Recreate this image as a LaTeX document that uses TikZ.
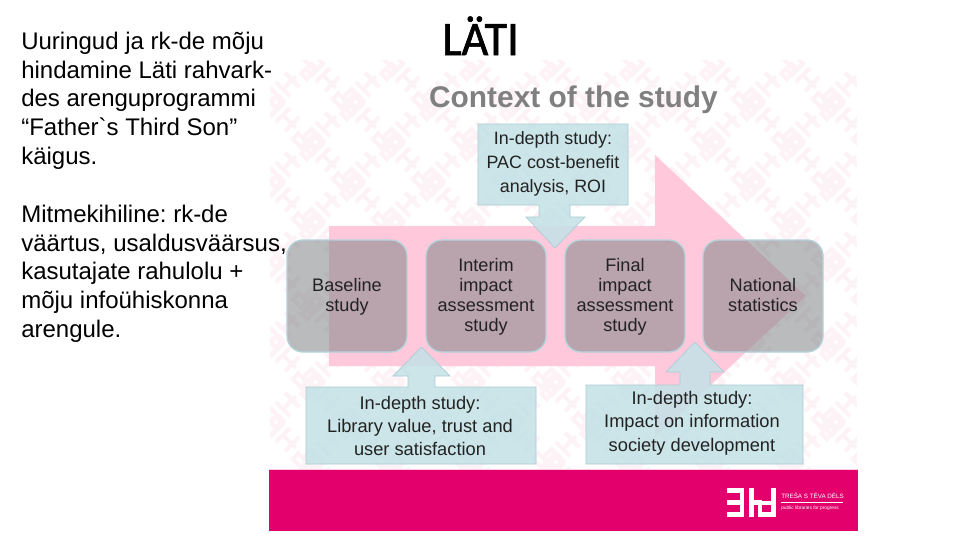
\documentclass[tikz,border=0pt]{standalone}
\usepackage{fontspec}
\setmainfont{Liberation Sans}
\newfontfamily\plainf{Liberation Sans}
\newfontfamily\titlefont[FakeBold=1.4]{Carlito}
\frenchspacing
\definecolor{pat}{HTML}{FDF2F5}
\definecolor{arrowpink}{HTML}{FFC9DB}
\definecolor{stage}{HTML}{808488}
\definecolor{stageedge}{HTML}{B4D3D9}
\definecolor{callout}{HTML}{C4E2E7}
\definecolor{calloutedge}{HTML}{A9CDD3}
\definecolor{band}{HTML}{E3006D}
\definecolor{ttl}{HTML}{808080}
\definecolor{ink}{HTML}{222222}
\tikzset{
  x=0.75pt,y=-0.75pt,
  bodytext/.style={anchor=north west,align=left,inner sep=0,font=\fontsize{18}{21.5}\selectfont,text=black},
  stagebox/.style={minimum width=90pt,minimum height=84pt,inner sep=0,fill=none,
    align=center,text=ink,font=\fontsize{13.6}{15}\selectfont},
  stageshape/.style={rounded corners=12pt,fill=stage,fill opacity=.55,draw=stageedge,line width=1pt},
  calloutshape/.style={fill=callout,fill opacity=.88,draw=calloutedge,line width=.5pt},
  callouttext/.style={align=center,inner sep=0,text=ink,font=\fontsize{13.7}{17.5}\selectfont},
  motif/.pic={
    \draw[pat,line width=3pt,line cap=butt]
      (-28,-8)--(-18,-8)--(-18,8)--(-28,8) (-28,0)--(-18,0)
      (-10,-10)--(-10,10) (-10,0)--(8,0) (3,-10)--(3,10)
      (26,-10)--(26,10)--(14,10)--(14,2)--(26,2);
  }
}
\begin{document}
\begin{tikzpicture}
\useasboundingbox (0,0) rectangle (960,540);
\fill[white] (0,0) rectangle (960,540);
% background lattice
\begin{scope}
\clip (270,60) rectangle (857,470);
\foreach \i in {0,...,7}{\foreach \j in {0,...,5}{
  \pgfmathsetmacro\cx{270+80*\i}
  \pgfmathsetmacro\cy{62+80*\j}
  \pic[rotate=45] at (\cx+20,\cy+20) {motif};
  \pic[rotate=-45] at (\cx+60,\cy+20) {motif};
  \pic[rotate=-45] at (\cx+20,\cy+60) {motif};
  \pic[rotate=45] at (\cx+60,\cy+60) {motif};
}}
\end{scope}
% big arrow
\fill[arrowpink] (329,226)--(655,226)--(655,155)--(806,296)--(655,437)--(655,366)--(329,366)--cycle;
% stage boxes
\foreach \xa/\xb in {287/407,426/546,565/685,703/823}{
  \draw[stageshape] (\xa,240) rectangle (\xb,352);
}
% callouts
\path[calloutshape] (478,124)--(628,124)--(628,205)--(570,205)--(570,217)--(585,217)--(555,248)--(526,217)--(539,217)--(539,205)--(478,205)--cycle;
\path[calloutshape] (306,387)--(408,387)--(408,376)--(393,376)--(421.5,347)--(450,376)--(435,376)--(435,387)--(536,387)--(536,464)--(306,464)--cycle;
\path[calloutshape] (586,385)--(680,385)--(680,372)--(666,372)--(695,342)--(724,372)--(710,372)--(710,385)--(803,385)--(803,464)--(586,464)--cycle;
% band
\fill[band] (269,470) rectangle (858,531);
\draw[arrowpink,line width=.75pt] (269,469.5)--(858,469.5);
% logo
\fill[white] (727,488) rectangle (744,492.5);
\fill[white] (727,500) rectangle (744,504.5);
\fill[white] (727,512) rectangle (744,516.5);
\fill[white] (739.5,488) rectangle (744,516.5);
\fill[white] (749,488) rectangle (753.5,516.5);
\fill[white] (749,500) rectangle (762,504.5);
\fill[white] (757.5,500) rectangle (762,516.5);
\fill[white] (771,488) rectangle (775.5,516.5);
\fill[white] (762,501) rectangle (775.5,505);
\fill[white] (762,512) rectangle (775.5,516.5);
\fill[white] (781,502) rectangle (843,502.5);
\node[anchor=west,inner sep=0,text=white,font=\fontsize{4.7}{6}\selectfont] (logoa) at (781,496) {TREŠA S TĒVA DĒLS};
\node[anchor=west,inner sep=0,text=white,font=\fontsize{3.6}{5}\selectfont] (logob) at (781,508.5) {public libraries for progress};
% texts
\node[bodytext] (intro) at (21,32) {Uuringud ja rk-de mõju\\hindamine Läti rahvark-\\des arenguprogrammi\\“Father{\plainf\char"60}s Third Son”\\käigus.};
\node[bodytext] (multi) at (21,205) {Mitmekihiline: rk-de\\väärtus, usaldusväärsus,\\kasutajate rahulolu +\\mõju infoühiskonna\\arengule.};
\node[anchor=base west,inner sep=0,font=\titlefont\fontsize{36}{40}\selectfont,xscale=.96] (lati) at (442,55) {LÄTI};
\node[anchor=base,inner sep=0,text=ttl,font=\bfseries\fontsize{22.4}{26}\selectfont] (title) at (573.5,107) {Context of the study};
\node[stagebox] (baseline) at (347,297) {Baseline\\study};
\node[stagebox] (interim) at (486,297) {Interim\\impact\\assessment\\study};
\node[stagebox] (final) at (625,297) {Final\\impact\\assessment\\study};
\node[stagebox] (national) at (763,295) {National\\statistics};
\node[callouttext,font=\fontsize{13.4}{18}\selectfont] (pac) at (553,164) {In-depth study:\\PAC cost-benefit\\analysis, ROI};
\node[callouttext] (lib) at (420,426) {In-depth study:\\Library value, trust and\\user satisfaction};
\node[callouttext] (soc) at (692,423) {In-depth study:\\Impact on information\\society development};
\end{tikzpicture}
\end{document}
